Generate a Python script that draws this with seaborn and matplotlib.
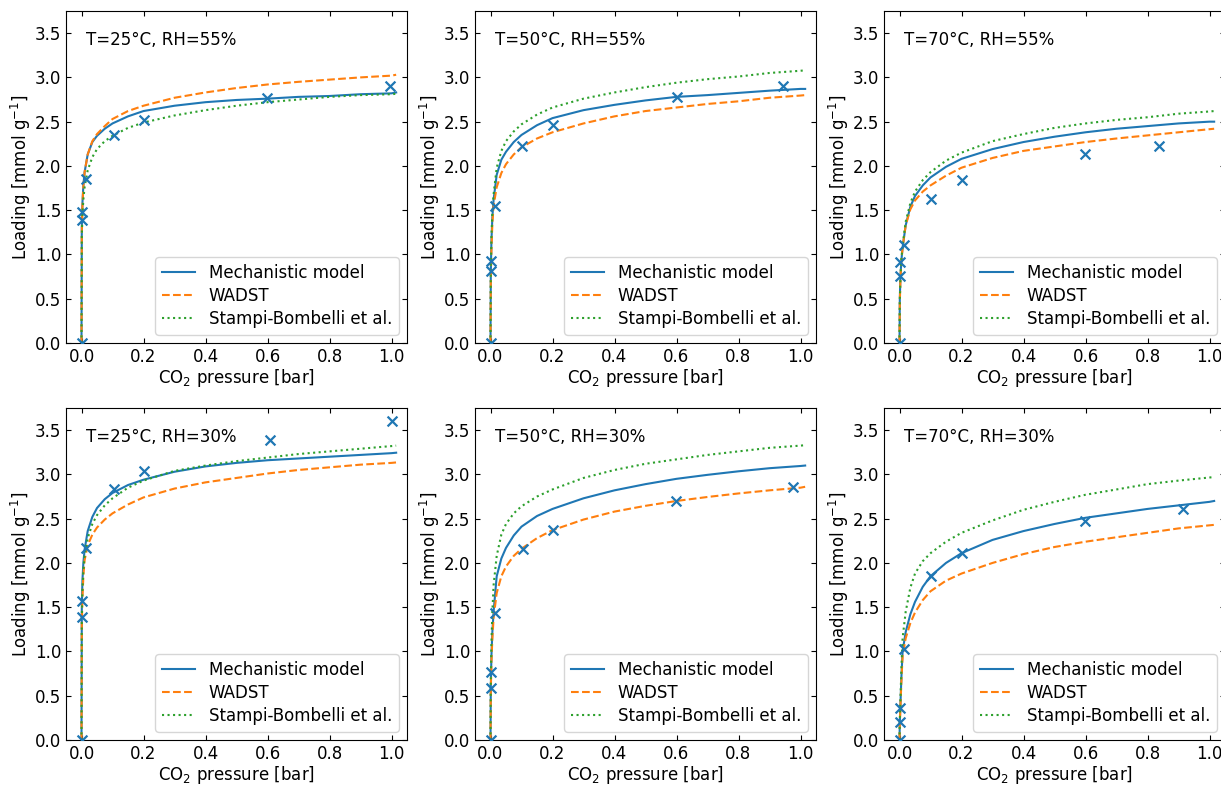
import numpy as np
import pandas as pd
import seaborn as sns
import matplotlib
matplotlib.use("Agg")
import matplotlib.pyplot as plt

# CO2 pressure grid for the model curves [bar]
p_grid = [0, 0.001, 0.003, 0.006, 0.01, 0.02, 0.035, 0.05, 0.075, 0.1, 0.15,
          0.2, 0.3, 0.4, 0.5, 0.6, 0.7, 0.8, 0.9, 1.0, 1.015]

# T=25C RH=55%
mech_25_55 = [0, 1.30, 1.58, 1.78, 1.93, 2.13, 2.27, 2.34, 2.42, 2.48, 2.56,
              2.62, 2.68, 2.72, 2.745, 2.76, 2.78, 2.79, 2.81, 2.82, 2.83]
wadst_25_55 = [0, 1.25, 1.55, 1.77, 1.93, 2.13, 2.28, 2.36, 2.45, 2.53, 2.62,
               2.68, 2.77, 2.83, 2.88, 2.92, 2.95, 2.975, 3.00, 3.02, 3.03]
stampi_25_55 = [0, 1.20, 1.45, 1.62, 1.76, 1.95, 2.10, 2.19, 2.28, 2.34, 2.43,
                2.49, 2.57, 2.63, 2.68, 2.72, 2.75, 2.78, 2.80, 2.81, 2.815]
# T=50C RH=55%
mech_50_55 = [0, 0.80, 1.15, 1.42, 1.62, 1.90, 2.07, 2.16, 2.27, 2.35, 2.46,
              2.54, 2.63, 2.69, 2.74, 2.78, 2.80, 2.825, 2.85, 2.87, 2.87]
wadst_50_55 = [0, 0.70, 1.05, 1.35, 1.55, 1.76, 1.92, 2.02, 2.13, 2.21, 2.31,
               2.38, 2.48, 2.56, 2.62, 2.66, 2.70, 2.73, 2.77, 2.795, 2.80]
stampi_50_55 = [0, 0.85, 1.20, 1.48, 1.68, 1.98, 2.17, 2.28, 2.39, 2.47, 2.58,
                2.66, 2.76, 2.83, 2.89, 2.94, 2.98, 3.01, 3.05, 3.075, 3.08]
# T=70C RH=55%
mech_70_55 = [0, 0.50, 0.75, 0.93, 1.08, 1.33, 1.54, 1.66, 1.78, 1.87, 1.99,
              2.08, 2.19, 2.27, 2.33, 2.38, 2.42, 2.45, 2.48, 2.50, 2.50]
wadst_70_55 = [0, 0.45, 0.72, 0.92, 1.08, 1.33, 1.51, 1.61, 1.71, 1.78, 1.89,
               1.98, 2.09, 2.17, 2.22, 2.27, 2.31, 2.345, 2.38, 2.415, 2.42]
stampi_70_55 = [0, 0.48, 0.74, 0.94, 1.10, 1.37, 1.58, 1.71, 1.84, 1.93, 2.06,
                2.15, 2.28, 2.36, 2.43, 2.48, 2.52, 2.55, 2.59, 2.615, 2.62]
# T=25C RH=30%
mech_25_30 = [0, 1.50, 1.80, 2.00, 2.15, 2.36, 2.52, 2.62, 2.72, 2.79, 2.88,
              2.94, 3.03, 3.09, 3.13, 3.16, 3.18, 3.20, 3.22, 3.24, 3.245]
wadst_25_30 = [0, 1.30, 1.60, 1.85, 2.03, 2.20, 2.32, 2.40, 2.49, 2.56, 2.66,
               2.74, 2.84, 2.91, 2.96, 3.01, 3.05, 3.08, 3.11, 3.13, 3.135]
stampi_25_30 = [0, 1.40, 1.70, 1.92, 2.08, 2.28, 2.44, 2.54, 2.65, 2.73, 2.85,
                2.93, 3.04, 3.10, 3.15, 3.19, 3.23, 3.26, 3.29, 3.32, 3.325]
# T=50C RH=30%
mech_50_30 = [0, 0.60, 0.95, 1.22, 1.45, 1.85, 2.05, 2.17, 2.31, 2.41, 2.53,
              2.61, 2.73, 2.82, 2.89, 2.95, 2.995, 3.035, 3.07, 3.095, 3.10]
wadst_50_30 = [0, 0.55, 0.88, 1.15, 1.38, 1.66, 1.85, 1.96, 2.08, 2.16, 2.28,
               2.37, 2.49, 2.58, 2.645, 2.70, 2.745, 2.785, 2.82, 2.85, 2.86]
stampi_50_30 = [0, 0.70, 1.10, 1.45, 1.75, 2.08, 2.32, 2.44, 2.56, 2.64, 2.75,
                2.83, 2.96, 3.05, 3.12, 3.17, 3.22, 3.26, 3.30, 3.325, 3.33]
# T=70C RH=30%
mech_70_30 = [0, 0.20, 0.40, 0.70, 1.00, 1.22, 1.42, 1.56, 1.73, 1.85, 2.00,
              2.11, 2.26, 2.36, 2.44, 2.51, 2.56, 2.61, 2.65, 2.69, 2.70]
wadst_70_30 = [0, 0.18, 0.38, 0.65, 0.95, 1.15, 1.32, 1.44, 1.58, 1.68, 1.80,
               1.88, 2.00, 2.10, 2.18, 2.24, 2.29, 2.34, 2.39, 2.425, 2.43]
stampi_70_30 = [0, 0.22, 0.45, 0.80, 1.15, 1.45, 1.72, 1.88, 2.02, 2.11, 2.24,
                2.34, 2.48, 2.60, 2.69, 2.77, 2.83, 2.89, 2.93, 2.965, 2.97]

# experimental points
exp_p_25_55 = [0.0, 0.0, 0.0, 0.013, 0.104, 0.20, 0.597, 0.994]
exp_q_25_55 = [0.0, 1.39, 1.48, 1.85, 2.35, 2.52, 2.77, 2.90]
exp_p_50_55 = [0.0, 0.0, 0.0, 0.014, 0.102, 0.20, 0.601, 0.944]
exp_q_50_55 = [0.0, 0.81, 0.93, 1.55, 2.23, 2.46, 2.78, 2.905]
exp_p_70_55 = [0.0, 0.0, 0.0, 0.013, 0.102, 0.20, 0.597, 0.836]
exp_q_70_55 = [0.0, 0.756, 0.915, 1.11, 1.63, 1.844, 2.14, 2.228]
exp_p_25_30 = [0.0, 0.0, 0.0, 0.013, 0.104, 0.20, 0.608, 1.002]
exp_q_25_30 = [0.0, 1.39, 1.566, 2.17, 2.834, 3.04, 3.39, 3.60]
exp_p_50_30 = [0.0, 0.0, 0.0, 0.013, 0.104, 0.20, 0.599, 0.976]
exp_q_50_30 = [0.0, 0.587, 0.764, 1.44, 2.16, 2.367, 2.70, 2.853]
exp_p_70_30 = [0.0, 0.0, 0.0, 0.013, 0.102, 0.20, 0.597, 0.916]
exp_q_70_30 = [0.0, 0.20, 0.357, 1.03, 1.85, 2.11, 2.477, 2.61]

panel_titles = ["T=25°C, RH=55%", "T=50°C, RH=55%", "T=70°C, RH=55%",
                "T=25°C, RH=30%", "T=50°C, RH=30%", "T=70°C, RH=30%"]
mech = [mech_25_55, mech_50_55, mech_70_55, mech_25_30, mech_50_30, mech_70_30]
wadst = [wadst_25_55, wadst_50_55, wadst_70_55, wadst_25_30, wadst_50_30, wadst_70_30]
stampi = [stampi_25_55, stampi_50_55, stampi_70_55, stampi_25_30, stampi_50_30, stampi_70_30]
exp_p = [exp_p_25_55, exp_p_50_55, exp_p_70_55, exp_p_25_30, exp_p_50_30, exp_p_70_30]
exp_q = [exp_q_25_55, exp_q_50_55, exp_q_70_55, exp_q_25_30, exp_q_50_30, exp_q_70_30]

plt.rcParams["font.family"] = ["DejaVu Sans"]
plt.rcParams["font.size"] = 12

W, H = 1221, 785
fig = plt.figure(figsize=(W / 100, H / 100), dpi=100)

lefts = [66, 475, 884]
tops = [11, 408]
ax_w, ax_h = 341, 332

for i in range(6):
    r, c = divmod(i, 3)
    ax = fig.add_axes([lefts[c] / W, (H - tops[r] - ax_h) / H, ax_w / W, ax_h / H])
    sns.lineplot(x=p_grid, y=mech[i], ax=ax, color="tab:blue", linestyle="-",
                 lw=1.5, label="Mechanistic model")
    sns.lineplot(x=p_grid, y=wadst[i], ax=ax, color="tab:orange", linestyle="--",
                 lw=1.5, label="WADST")
    sns.lineplot(x=p_grid, y=stampi[i], ax=ax, color="tab:green", linestyle=":",
                 lw=1.5, label="Stampi-Bombelli et al.")
    sns.scatterplot(x=exp_p[i], y=exp_q[i], ax=ax, marker="x", color="tab:blue",
                    s=50, linewidth=1.6, legend=False, zorder=3)
    ax.set_xlim(-0.05, 1.05)
    ax.set_ylim(0, 3.75)
    ax.set_xticks(np.arange(0, 1.01, 0.2))
    ax.set_yticks(np.arange(0, 3.51, 0.5))
    ax.tick_params(direction="in", top=True, right=True, labelsize=12)
    ax.set_xlabel("CO$_2$ pressure [bar]", fontsize=12, labelpad=1)
    ax.set_ylabel("Loading [mmol g$^{-1}$]", fontsize=12, labelpad=1)
    ax.text(0.06, 0.94, panel_titles[i], transform=ax.transAxes, va="top",
            ha="left", fontsize=12)
    ax.legend(loc="lower right", fontsize=12, labelspacing=0.3)

fig.savefig("out.png", dpi=100)
